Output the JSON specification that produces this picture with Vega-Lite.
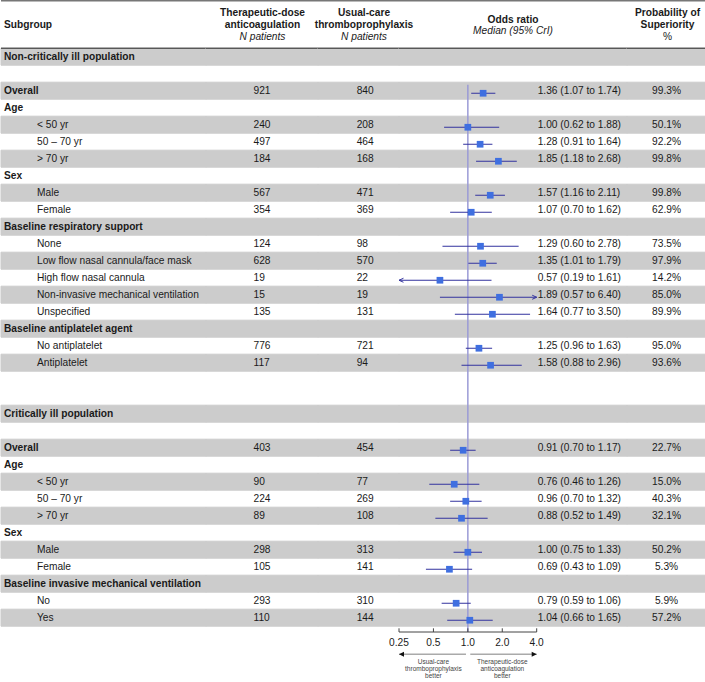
{
  "$schema": "https://vega.github.io/schema/vega-lite/v6.json",
  "padding": 0,
  "spacing": 0,
  "bounds": "flush",
  "config": {"view": {"stroke": null}, "font": "Liberation Sans"},
  "datasets": {
    "rows": [
      {"id": 1, "level": 0, "label": "Non-critically ill population"},
      {"id": 2},
      {"id": 3, "level": 0, "label": "Overall", "n1": 921, "n2": 840, "or": 1.36, "lo": 1.07, "hi": 1.74, "ci": "1.36 (1.07 to 1.74)", "prob": 0.993},
      {"id": 4, "level": 0, "label": "Age"},
      {"id": 5, "level": 1, "label": "< 50 yr", "n1": 240, "n2": 208, "or": 1.00, "lo": 0.62, "hi": 1.88, "ci": "1.00 (0.62 to 1.88)", "prob": 0.501},
      {"id": 6, "level": 1, "label": "50 – 70 yr", "n1": 497, "n2": 464, "or": 1.28, "lo": 0.91, "hi": 1.64, "ci": "1.28 (0.91 to 1.64)", "prob": 0.922},
      {"id": 7, "level": 1, "label": "> 70 yr", "n1": 184, "n2": 168, "or": 1.85, "lo": 1.18, "hi": 2.68, "ci": "1.85 (1.18 to 2.68)", "prob": 0.998},
      {"id": 8, "level": 0, "label": "Sex"},
      {"id": 9, "level": 1, "label": "Male", "n1": 567, "n2": 471, "or": 1.57, "lo": 1.16, "hi": 2.11, "ci": "1.57 (1.16 to 2.11)", "prob": 0.998},
      {"id": 10, "level": 1, "label": "Female", "n1": 354, "n2": 369, "or": 1.07, "lo": 0.70, "hi": 1.62, "ci": "1.07 (0.70 to 1.62)", "prob": 0.629},
      {"id": 11, "level": 0, "label": "Baseline respiratory support"},
      {"id": 12, "level": 1, "label": "None", "n1": 124, "n2": 98, "or": 1.29, "lo": 0.60, "hi": 2.78, "ci": "1.29 (0.60 to 2.78)", "prob": 0.735},
      {"id": 13, "level": 1, "label": "Low flow nasal cannula/face mask", "n1": 628, "n2": 570, "or": 1.35, "lo": 1.01, "hi": 1.79, "ci": "1.35 (1.01 to 1.79)", "prob": 0.979},
      {"id": 14, "level": 1, "label": "High flow nasal cannula", "n1": 19, "n2": 22, "or": 0.57, "lo": 0.19, "hi": 1.61, "ci": "0.57 (0.19 to 1.61)", "prob": 0.142},
      {"id": 15, "level": 1, "label": "Non-invasive mechanical ventilation", "n1": 15, "n2": 19, "or": 1.89, "lo": 0.57, "hi": 6.40, "ci": "1.89 (0.57 to 6.40)", "prob": 0.850},
      {"id": 16, "level": 1, "label": "Unspecified", "n1": 135, "n2": 131, "or": 1.64, "lo": 0.77, "hi": 3.50, "ci": "1.64 (0.77 to 3.50)", "prob": 0.899},
      {"id": 17, "level": 0, "label": "Baseline antiplatelet agent"},
      {"id": 18, "level": 1, "label": "No antiplatelet", "n1": 776, "n2": 721, "or": 1.25, "lo": 0.96, "hi": 1.63, "ci": "1.25 (0.96 to 1.63)", "prob": 0.950},
      {"id": 19, "level": 1, "label": "Antiplatelet", "n1": 117, "n2": 94, "or": 1.58, "lo": 0.88, "hi": 2.96, "ci": "1.58 (0.88 to 2.96)", "prob": 0.936},
      {"id": 20},
      {"id": 22, "level": 0, "label": "Critically ill population"},
      {"id": 23},
      {"id": 24, "level": 0, "label": "Overall", "n1": 403, "n2": 454, "or": 0.91, "lo": 0.70, "hi": 1.17, "ci": "0.91 (0.70 to 1.17)", "prob": 0.227},
      {"id": 25, "level": 0, "label": "Age"},
      {"id": 26, "level": 1, "label": "< 50 yr", "n1": 90, "n2": 77, "or": 0.76, "lo": 0.46, "hi": 1.26, "ci": "0.76 (0.46 to 1.26)", "prob": 0.150},
      {"id": 27, "level": 1, "label": "50 – 70 yr", "n1": 224, "n2": 269, "or": 0.96, "lo": 0.70, "hi": 1.32, "ci": "0.96 (0.70 to 1.32)", "prob": 0.403},
      {"id": 28, "level": 1, "label": "> 70 yr", "n1": 89, "n2": 108, "or": 0.88, "lo": 0.52, "hi": 1.49, "ci": "0.88 (0.52 to 1.49)", "prob": 0.321},
      {"id": 29, "level": 0, "label": "Sex"},
      {"id": 30, "level": 1, "label": "Male", "n1": 298, "n2": 313, "or": 1.00, "lo": 0.75, "hi": 1.33, "ci": "1.00 (0.75 to 1.33)", "prob": 0.502},
      {"id": 31, "level": 1, "label": "Female", "n1": 105, "n2": 141, "or": 0.69, "lo": 0.43, "hi": 1.09, "ci": "0.69 (0.43 to 1.09)", "prob": 0.053},
      {"id": 32, "level": 0, "label": "Baseline invasive mechanical ventilation"},
      {"id": 33, "level": 1, "label": "No", "n1": 293, "n2": 310, "or": 0.79, "lo": 0.59, "hi": 1.06, "ci": "0.79 (0.59 to 1.06)", "prob": 0.059},
      {"id": 34, "level": 1, "label": "Yes", "n1": 110, "n2": 144, "or": 1.04, "lo": 0.66, "hi": 1.65, "ci": "1.04 (0.66 to 1.65)", "prob": 0.572}
    ],
    "header": [
      {"col": "sub", "line": "l2", "text": "Subgroup", "role": "name"},
      {"col": "n1", "line": "l1", "text": "Therapeutic-dose", "role": "name"},
      {"col": "n1", "line": "l2", "text": "anticoagulation", "role": "name"},
      {"col": "n1", "line": "l3", "text": "N patients", "role": "unit"},
      {"col": "n2", "line": "l1", "text": "Usual-care", "role": "name"},
      {"col": "n2", "line": "l2", "text": "thromboprophylaxis", "role": "name"},
      {"col": "n2", "line": "l3", "text": "N patients", "role": "unit"},
      {"col": "or", "line": "h2", "text": "Odds ratio", "role": "name"},
      {"col": "or", "line": "h3", "text": "Median (95% CrI)", "role": "unit"},
      {"col": "prob", "line": "l1", "text": "Probability of", "role": "name"},
      {"col": "prob", "line": "l2", "text": "Superiority", "role": "name"},
      {"col": "prob", "line": "l3", "text": "%", "role": "unit"}
    ],
    "ticks": [
      {"at": 0.25, "label": "0.25"},
      {"at": 0.5, "label": "0.5"},
      {"at": 1, "label": "1.0"},
      {"at": 2, "label": "2.0"},
      {"at": 4, "label": "4.0"}
    ],
    "arrows": [
      {"from": 0.963, "to": 0.25, "tip": "left"},
      {"from": 1.05, "to": 4, "tip": "right"}
    ],
    "notes": [
      {"at": 0.5, "line": "t1", "text": "Usual-care"},
      {"at": 0.5, "line": "t2", "text": "thromboprophylaxis"},
      {"at": 0.5, "line": "t3", "text": "better"},
      {"at": 2, "line": "t1", "text": "Therapeutic-dose"},
      {"at": 2, "line": "t2", "text": "anticoagulation"},
      {"at": 2, "line": "t3", "text": "better"}
    ]
  },
  "hconcat": [
    {
      "width": 205, "height": 682,
      "resolve": {"scale": {"y": "independent"}},
      "layer": [
        {"data": {"name": "rows"}, "transform": [{"window": [{"op": "row_number", "as": "k"}], "sort": [{"field": "id"}]}, {"filter": "datum.k % 2 == 1"}],
         "mark": {"type": "rect", "color": "#cccccc", "stroke": "#cccccc", "strokeWidth": 1},
         "encoding": {"y": {"field": "id", "type": "ordinal", "axis": null, "scale": {"type": "band", "domain": [1,2,3,4,5,6,7,8,9,10,11,12,13,14,15,16,17,18,19,20,21,22,23,24,25,26,27,28,29,30,31,32,33,34], "range": [48.2, 626.2], "paddingInner": 0, "paddingOuter": 0}}}},
        {"data": {"values": [{}]}, "mark": {"type": "rule", "color": "#777777", "strokeWidth": 1.5},
         "encoding": {"y": {"datum": "top", "type": "nominal", "axis": null, "scale": {"type": "point", "domain": ["top","h1","l1","h2","l2","h3","l3"], "range": [0.75, 36.7], "padding": 0}}}},
        {"data": {"values": [{}]}, "mark": {"type": "rule", "color": "#222222", "strokeWidth": 1},
         "encoding": {"y": {"datum": 1, "type": "ordinal", "bandPosition": 0, "axis": null, "scale": {"type": "band", "domain": [1,2,3,4,5,6,7,8,9,10,11,12,13,14,15,16,17,18,19,20,21,22,23,24,25,26,27,28,29,30,31,32,33,34], "range": [48.2, 626.2], "paddingInner": 0, "paddingOuter": 0}}}},
        {"data": {"name": "header"}, "transform": [{"filter": "datum.col == 'sub'"}],
         "mark": {"type": "text", "align": "left", "baseline": "middle", "fontWeight": "bold", "fontSize": 10.2, "color": "#1a1a1a"},
         "encoding": {"x": {"datum": 0, "type": "quantitative", "axis": null, "scale": {"domain": [0, 1], "range": [3, 36], "nice": false, "zero": false}},
                      "y": {"field": "line", "type": "nominal", "axis": null, "scale": {"type": "point", "domain": ["top","h1","l1","h2","l2","h3","l3"], "range": [0.75, 36.7], "padding": 0}},
                      "text": {"field": "text"}}},
        {"data": {"name": "rows"}, "transform": [{"filter": "datum.level === 0"}],
         "mark": {"type": "text", "align": "left", "baseline": "middle", "fontWeight": "bold", "fontSize": 10.2, "color": "#1a1a1a"},
         "encoding": {"x": {"field": "level", "type": "quantitative", "axis": null, "scale": {"domain": [0, 1], "range": [3, 36], "nice": false, "zero": false}},
                      "y": {"field": "id", "type": "ordinal", "axis": null, "scale": {"type": "band", "domain": [1,2,3,4,5,6,7,8,9,10,11,12,13,14,15,16,17,18,19,20,21,22,23,24,25,26,27,28,29,30,31,32,33,34], "range": [48.2, 626.2], "paddingInner": 0, "paddingOuter": 0}},
                      "text": {"field": "label"}}},
        {"data": {"name": "rows"}, "transform": [{"filter": "datum.level === 1"}],
         "mark": {"type": "text", "align": "left", "baseline": "middle", "fontSize": 10.2, "color": "#1a1a1a"},
         "encoding": {"x": {"field": "level", "type": "quantitative", "axis": null},
                      "y": {"field": "id", "type": "ordinal", "axis": null, "scale": {"type": "band", "domain": [1,2,3,4,5,6,7,8,9,10,11,12,13,14,15,16,17,18,19,20,21,22,23,24,25,26,27,28,29,30,31,32,33,34], "range": [48.2, 626.2], "paddingInner": 0, "paddingOuter": 0}},
                      "text": {"field": "label"}}}
      ]
    },
    {
      "width": 112, "height": 682,
      "resolve": {"scale": {"y": "independent"}},
      "layer": [
        {"data": {"name": "rows"}, "transform": [{"window": [{"op": "row_number", "as": "k"}], "sort": [{"field": "id"}]}, {"filter": "datum.k % 2 == 1"}],
         "mark": {"type": "rect", "color": "#cccccc", "stroke": "#cccccc", "strokeWidth": 1},
         "encoding": {"y": {"field": "id", "type": "ordinal", "axis": null, "scale": {"type": "band", "domain": [1,2,3,4,5,6,7,8,9,10,11,12,13,14,15,16,17,18,19,20,21,22,23,24,25,26,27,28,29,30,31,32,33,34], "range": [48.2, 626.2], "paddingInner": 0, "paddingOuter": 0}}}},
        {"data": {"values": [{}]}, "mark": {"type": "rule", "color": "#777777", "strokeWidth": 1.5},
         "encoding": {"y": {"datum": "top", "type": "nominal", "axis": null, "scale": {"type": "point", "domain": ["top","h1","l1","h2","l2","h3","l3"], "range": [0.75, 36.7], "padding": 0}}}},
        {"data": {"values": [{}]}, "mark": {"type": "rule", "color": "#222222", "strokeWidth": 1},
         "encoding": {"y": {"datum": 1, "type": "ordinal", "bandPosition": 0, "axis": null, "scale": {"type": "band", "domain": [1,2,3,4,5,6,7,8,9,10,11,12,13,14,15,16,17,18,19,20,21,22,23,24,25,26,27,28,29,30,31,32,33,34], "range": [48.2, 626.2], "paddingInner": 0, "paddingOuter": 0}}}},
        {"data": {"name": "header"}, "transform": [{"filter": "datum.col == 'n1' && datum.role == 'name'"}],
         "mark": {"type": "text", "align": "center", "baseline": "middle", "fontWeight": "bold", "fontSize": 10.2, "color": "#1a1a1a", "dx": 0.5},
         "encoding": {"y": {"field": "line", "type": "nominal", "axis": null, "scale": {"type": "point", "domain": ["top","h1","l1","h2","l2","h3","l3"], "range": [0.75, 36.7], "padding": 0}},
                      "text": {"field": "text"}}},
        {"data": {"name": "header"}, "transform": [{"filter": "datum.col == 'n1' && datum.role == 'unit'"}],
         "mark": {"type": "text", "align": "center", "baseline": "middle", "fontStyle": "italic", "fontSize": 10.2, "color": "#1a1a1a", "dx": 0.5},
         "encoding": {"y": {"field": "line", "type": "nominal", "axis": null, "scale": {"type": "point", "domain": ["top","h1","l1","h2","l2","h3","l3"], "range": [0.75, 36.7], "padding": 0}},
                      "text": {"field": "text"}}},
        {"data": {"name": "rows"}, "transform": [{"filter": "isValid(datum.n1)"}],
         "mark": {"type": "text", "align": "left", "baseline": "middle", "fontSize": 10.2, "color": "#1a1a1a", "dx": -8.5},
         "encoding": {"y": {"field": "id", "type": "ordinal", "axis": null, "scale": {"type": "band", "domain": [1,2,3,4,5,6,7,8,9,10,11,12,13,14,15,16,17,18,19,20,21,22,23,24,25,26,27,28,29,30,31,32,33,34], "range": [48.2, 626.2], "paddingInner": 0, "paddingOuter": 0}},
                      "text": {"field": "n1", "type": "quantitative", "format": "d"}}}
      ]
    },
    {
      "width": 81, "height": 682,
      "resolve": {"scale": {"y": "independent"}},
      "layer": [
        {"data": {"name": "rows"}, "transform": [{"window": [{"op": "row_number", "as": "k"}], "sort": [{"field": "id"}]}, {"filter": "datum.k % 2 == 1"}],
         "mark": {"type": "rect", "color": "#cccccc", "stroke": "#cccccc", "strokeWidth": 1},
         "encoding": {"y": {"field": "id", "type": "ordinal", "axis": null, "scale": {"type": "band", "domain": [1,2,3,4,5,6,7,8,9,10,11,12,13,14,15,16,17,18,19,20,21,22,23,24,25,26,27,28,29,30,31,32,33,34], "range": [48.2, 626.2], "paddingInner": 0, "paddingOuter": 0}}}},
        {"data": {"values": [{}]}, "mark": {"type": "rule", "color": "#777777", "strokeWidth": 1.5},
         "encoding": {"y": {"datum": "top", "type": "nominal", "axis": null, "scale": {"type": "point", "domain": ["top","h1","l1","h2","l2","h3","l3"], "range": [0.75, 36.7], "padding": 0}}}},
        {"data": {"values": [{}]}, "mark": {"type": "rule", "color": "#222222", "strokeWidth": 1},
         "encoding": {"y": {"datum": 1, "type": "ordinal", "bandPosition": 0, "axis": null, "scale": {"type": "band", "domain": [1,2,3,4,5,6,7,8,9,10,11,12,13,14,15,16,17,18,19,20,21,22,23,24,25,26,27,28,29,30,31,32,33,34], "range": [48.2, 626.2], "paddingInner": 0, "paddingOuter": 0}}}},
        {"data": {"name": "header"}, "transform": [{"filter": "datum.col == 'n2' && datum.role == 'name'"}],
         "mark": {"type": "text", "align": "center", "baseline": "middle", "fontWeight": "bold", "fontSize": 10.2, "color": "#1a1a1a", "dx": 5.5},
         "encoding": {"y": {"field": "line", "type": "nominal", "axis": null, "scale": {"type": "point", "domain": ["top","h1","l1","h2","l2","h3","l3"], "range": [0.75, 36.7], "padding": 0}},
                      "text": {"field": "text"}}},
        {"data": {"name": "header"}, "transform": [{"filter": "datum.col == 'n2' && datum.role == 'unit'"}],
         "mark": {"type": "text", "align": "center", "baseline": "middle", "fontStyle": "italic", "fontSize": 10.2, "color": "#1a1a1a", "dx": 5.5},
         "encoding": {"y": {"field": "line", "type": "nominal", "axis": null, "scale": {"type": "point", "domain": ["top","h1","l1","h2","l2","h3","l3"], "range": [0.75, 36.7], "padding": 0}},
                      "text": {"field": "text"}}},
        {"data": {"name": "rows"}, "transform": [{"filter": "isValid(datum.n2)"}],
         "mark": {"type": "text", "align": "left", "baseline": "middle", "fontSize": 10.2, "color": "#1a1a1a", "dx": -1.8},
         "encoding": {"y": {"field": "id", "type": "ordinal", "axis": null, "scale": {"type": "band", "domain": [1,2,3,4,5,6,7,8,9,10,11,12,13,14,15,16,17,18,19,20,21,22,23,24,25,26,27,28,29,30,31,32,33,34], "range": [48.2, 626.2], "paddingInner": 0, "paddingOuter": 0}},
                      "text": {"field": "n2", "type": "quantitative", "format": "d"}}}
      ]
    },
    {
      "width": 228, "height": 682,
      "resolve": {"scale": {"y": "independent"}},
      "layer": [
        {"data": {"name": "rows"}, "transform": [{"window": [{"op": "row_number", "as": "k"}], "sort": [{"field": "id"}]}, {"filter": "datum.k % 2 == 1"}],
         "mark": {"type": "rect", "color": "#cccccc", "stroke": "#cccccc", "strokeWidth": 1},
         "encoding": {"y": {"field": "id", "type": "ordinal", "axis": null, "scale": {"type": "band", "domain": [1,2,3,4,5,6,7,8,9,10,11,12,13,14,15,16,17,18,19,20,21,22,23,24,25,26,27,28,29,30,31,32,33,34], "range": [48.2, 626.2], "paddingInner": 0, "paddingOuter": 0}}}},
        {"data": {"values": [{}]}, "mark": {"type": "rule", "color": "#777777", "strokeWidth": 1.5},
         "encoding": {"y": {"datum": "top", "type": "nominal", "axis": null, "scale": {"type": "point", "domain": ["top","h1","l1","h2","l2","h3","l3"], "range": [0.75, 36.7], "padding": 0}}}},
        {"data": {"values": [{}]}, "mark": {"type": "rule", "color": "#222222", "strokeWidth": 1},
         "encoding": {"y": {"datum": 1, "type": "ordinal", "bandPosition": 0, "axis": null, "scale": {"type": "band", "domain": [1,2,3,4,5,6,7,8,9,10,11,12,13,14,15,16,17,18,19,20,21,22,23,24,25,26,27,28,29,30,31,32,33,34], "range": [48.2, 626.2], "paddingInner": 0, "paddingOuter": 0}}}},
        {"data": {"name": "header"}, "transform": [{"filter": "datum.col == 'or' && datum.role == 'name'"}],
         "mark": {"type": "text", "align": "center", "baseline": "middle", "fontWeight": "bold", "fontSize": 10.2, "color": "#1a1a1a", "dy": 1.5},
         "encoding": {"y": {"field": "line", "type": "nominal", "axis": null, "scale": {"type": "point", "domain": ["top","h1","l1","h2","l2","h3","l3"], "range": [0.75, 36.7], "padding": 0}},
                      "text": {"field": "text"}}},
        {"data": {"name": "header"}, "transform": [{"filter": "datum.col == 'or' && datum.role == 'unit'"}],
         "mark": {"type": "text", "align": "center", "baseline": "middle", "fontStyle": "italic", "fontSize": 10.2, "color": "#1a1a1a"},
         "encoding": {"y": {"field": "line", "type": "nominal", "axis": null, "scale": {"type": "point", "domain": ["top","h1","l1","h2","l2","h3","l3"], "range": [0.75, 36.7], "padding": 0}},
                      "text": {"field": "text"}}},
        {"data": {"values": [{}]}, "mark": {"type": "rule", "color": "#9b9bd6", "strokeWidth": 1.5},
         "encoding": {"x": {"datum": 1, "type": "quantitative", "axis": null},
                      "y": {"datum": "start", "type": "nominal", "axis": null, "scale": {"type": "point", "domain": ["start", "end"], "range": [84.7, 632], "padding": 0}},
                      "y2": {"datum": "end"}}},
        {"data": {"name": "rows"}, "transform": [{"filter": "isValid(datum.or)"}],
         "mark": {"type": "rule", "color": "#33339e", "strokeWidth": 1},
         "encoding": {"x": {"field": "lo", "type": "quantitative", "axis": null,
                            "scale": {"type": "log", "domain": [0.25, 4], "range": [0, 137.7], "clamp": true, "nice": false}},
                      "x2": {"field": "hi"},
                      "y": {"field": "id", "type": "ordinal", "bandPosition": 0.65, "axis": null, "scale": {"type": "band", "domain": [1,2,3,4,5,6,7,8,9,10,11,12,13,14,15,16,17,18,19,20,21,22,23,24,25,26,27,28,29,30,31,32,33,34], "range": [48.2, 626.2], "paddingInner": 0, "paddingOuter": 0}}}},
        {"data": {"name": "rows"}, "transform": [{"filter": "datum.lo < 0.25"}],
         "mark": {"type": "point", "shape": "M0,0L1,-0.45M0,0L1,0.45", "filled": false, "color": "#33339e", "strokeWidth": 1, "size": 80, "opacity": 1},
         "encoding": {"x": {"field": "lo", "type": "quantitative", "axis": null},
                      "y": {"field": "id", "type": "ordinal", "bandPosition": 0.65, "axis": null, "scale": {"type": "band", "domain": [1,2,3,4,5,6,7,8,9,10,11,12,13,14,15,16,17,18,19,20,21,22,23,24,25,26,27,28,29,30,31,32,33,34], "range": [48.2, 626.2], "paddingInner": 0, "paddingOuter": 0}}}},
        {"data": {"name": "rows"}, "transform": [{"filter": "datum.hi > 4"}],
         "mark": {"type": "point", "shape": "M0,0L-1,-0.45M0,0L-1,0.45", "filled": false, "color": "#33339e", "strokeWidth": 1, "size": 80, "opacity": 1},
         "encoding": {"x": {"field": "hi", "type": "quantitative", "axis": null},
                      "y": {"field": "id", "type": "ordinal", "bandPosition": 0.65, "axis": null, "scale": {"type": "band", "domain": [1,2,3,4,5,6,7,8,9,10,11,12,13,14,15,16,17,18,19,20,21,22,23,24,25,26,27,28,29,30,31,32,33,34], "range": [48.2, 626.2], "paddingInner": 0, "paddingOuter": 0}}}},
        {"data": {"name": "rows"}, "transform": [{"filter": "isValid(datum.or)"}],
         "mark": {"type": "point", "shape": "square", "filled": true, "color": "#3f6fe0", "size": 45, "opacity": 1},
         "encoding": {"x": {"field": "or", "type": "quantitative", "axis": null},
                      "y": {"field": "id", "type": "ordinal", "bandPosition": 0.65, "axis": null, "scale": {"type": "band", "domain": [1,2,3,4,5,6,7,8,9,10,11,12,13,14,15,16,17,18,19,20,21,22,23,24,25,26,27,28,29,30,31,32,33,34], "range": [48.2, 626.2], "paddingInner": 0, "paddingOuter": 0}}}},
        {"data": {"name": "rows"}, "transform": [{"filter": "isValid(datum.ci)"}],
         "mark": {"type": "text", "align": "left", "baseline": "middle", "fontSize": 10.2, "color": "#1a1a1a", "dx": 1},
         "encoding": {"x": {"datum": 4, "type": "quantitative", "axis": null},
                      "y": {"field": "id", "type": "ordinal", "axis": null, "scale": {"type": "band", "domain": [1,2,3,4,5,6,7,8,9,10,11,12,13,14,15,16,17,18,19,20,21,22,23,24,25,26,27,28,29,30,31,32,33,34], "range": [48.2, 626.2], "paddingInner": 0, "paddingOuter": 0}},
                      "text": {"field": "ci"}}},
        {"data": {"values": [{}]},
         "mark": {"type": "rule", "color": "#444444", "strokeWidth": 1},
         "encoding": {"x": {"datum": 0.25, "type": "quantitative", "axis": null}, "x2": {"datum": 4},
                      "y": {"datum": "axis", "type": "nominal", "axis": null, "scale": {"type": "point", "domain": ["tick","axis","s2","s3","label","s5","s6","arrow","s8","t1","s10","t2","s12","t3"], "range": [628.3, 676.4], "padding": 0}}}},
        {"data": {"name": "ticks"},
         "mark": {"type": "rule", "color": "#444444", "strokeWidth": 1},
         "encoding": {"x": {"field": "at", "type": "quantitative", "axis": null},
                      "y": {"datum": "tick", "type": "nominal", "axis": null, "scale": {"type": "point", "domain": ["tick","axis","s2","s3","label","s5","s6","arrow","s8","t1","s10","t2","s12","t3"], "range": [628.3, 676.4], "padding": 0}},
                      "y2": {"datum": "axis"}}},
        {"data": {"name": "ticks"},
         "mark": {"type": "text", "align": "center", "baseline": "middle", "fontSize": 10.2, "color": "#1a1a1a"},
         "encoding": {"x": {"field": "at", "type": "quantitative", "axis": null},
                      "y": {"datum": "label", "type": "nominal", "axis": null, "scale": {"type": "point", "domain": ["tick","axis","s2","s3","label","s5","s6","arrow","s8","t1","s10","t2","s12","t3"], "range": [628.3, 676.4], "padding": 0}},
                      "text": {"field": "label"}}},
        {"data": {"name": "arrows"},
         "mark": {"type": "rule", "color": "#aaaaaa", "strokeWidth": 1.5},
         "encoding": {"x": {"field": "from", "type": "quantitative", "axis": null}, "x2": {"field": "to"},
                      "y": {"datum": "arrow", "type": "nominal", "axis": null, "scale": {"type": "point", "domain": ["tick","axis","s2","s3","label","s5","s6","arrow","s8","t1","s10","t2","s12","t3"], "range": [628.3, 676.4], "padding": 0}}}},
        {"data": {"name": "arrows"},
         "mark": {"type": "point", "filled": true, "color": "#111111", "size": 100, "opacity": 1},
         "encoding": {"x": {"field": "to", "type": "quantitative", "axis": null},
                      "y": {"datum": "arrow", "type": "nominal", "axis": null, "scale": {"type": "point", "domain": ["tick","axis","s2","s3","label","s5","s6","arrow","s8","t1","s10","t2","s12","t3"], "range": [628.3, 676.4], "padding": 0}},
                      "shape": {"field": "tip", "type": "nominal", "legend": null, "scale": {"domain": ["left", "right"], "range": ["M0,0L1,-0.5L1,0.5Z", "M0,0L-1,-0.5L-1,0.5Z"]}}}},
        {"data": {"name": "notes"},
         "mark": {"type": "text", "align": "center", "baseline": "middle", "fontSize": 6.5, "color": "#444444"},
         "encoding": {"x": {"field": "at", "type": "quantitative", "axis": null},
                      "y": {"field": "line", "type": "nominal", "axis": null, "scale": {"type": "point", "domain": ["tick","axis","s2","s3","label","s5","s6","arrow","s8","t1","s10","t2","s12","t3"], "range": [628.3, 676.4], "padding": 0}},
                      "text": {"field": "text"}}}
      ]
    },
    {
      "width": 79, "height": 682,
      "resolve": {"scale": {"y": "independent"}},
      "layer": [
        {"data": {"name": "rows"}, "transform": [{"window": [{"op": "row_number", "as": "k"}], "sort": [{"field": "id"}]}, {"filter": "datum.k % 2 == 1"}],
         "mark": {"type": "rect", "color": "#cccccc", "stroke": "#cccccc", "strokeWidth": 1},
         "encoding": {"y": {"field": "id", "type": "ordinal", "axis": null, "scale": {"type": "band", "domain": [1,2,3,4,5,6,7,8,9,10,11,12,13,14,15,16,17,18,19,20,21,22,23,24,25,26,27,28,29,30,31,32,33,34], "range": [48.2, 626.2], "paddingInner": 0, "paddingOuter": 0}}}},
        {"data": {"values": [{}]}, "mark": {"type": "rule", "color": "#777777", "strokeWidth": 1.5},
         "encoding": {"y": {"datum": "top", "type": "nominal", "axis": null, "scale": {"type": "point", "domain": ["top","h1","l1","h2","l2","h3","l3"], "range": [0.75, 36.7], "padding": 0}}}},
        {"data": {"values": [{}]}, "mark": {"type": "rule", "color": "#222222", "strokeWidth": 1},
         "encoding": {"y": {"datum": 1, "type": "ordinal", "bandPosition": 0, "axis": null, "scale": {"type": "band", "domain": [1,2,3,4,5,6,7,8,9,10,11,12,13,14,15,16,17,18,19,20,21,22,23,24,25,26,27,28,29,30,31,32,33,34], "range": [48.2, 626.2], "paddingInner": 0, "paddingOuter": 0}}}},
        {"data": {"name": "header"}, "transform": [{"filter": "datum.col == 'prob' && datum.role == 'name'"}],
         "mark": {"type": "text", "align": "center", "baseline": "middle", "fontWeight": "bold", "fontSize": 10.2, "color": "#1a1a1a", "dx": 1},
         "encoding": {"y": {"field": "line", "type": "nominal", "axis": null, "scale": {"type": "point", "domain": ["top","h1","l1","h2","l2","h3","l3"], "range": [0.75, 36.7], "padding": 0}},
                      "text": {"field": "text"}}},
        {"data": {"name": "header"}, "transform": [{"filter": "datum.col == 'prob' && datum.role == 'unit'"}],
         "mark": {"type": "text", "align": "center", "baseline": "middle", "fontSize": 10.2, "color": "#1a1a1a", "dx": 1},
         "encoding": {"y": {"field": "line", "type": "nominal", "axis": null, "scale": {"type": "point", "domain": ["top","h1","l1","h2","l2","h3","l3"], "range": [0.75, 36.7], "padding": 0}},
                      "text": {"field": "text"}}},
        {"data": {"name": "rows"}, "transform": [{"filter": "isValid(datum.prob)"}],
         "mark": {"type": "text", "align": "center", "baseline": "middle", "fontSize": 10.2, "color": "#1a1a1a"},
         "encoding": {"y": {"field": "id", "type": "ordinal", "axis": null, "scale": {"type": "band", "domain": [1,2,3,4,5,6,7,8,9,10,11,12,13,14,15,16,17,18,19,20,21,22,23,24,25,26,27,28,29,30,31,32,33,34], "range": [48.2, 626.2], "paddingInner": 0, "paddingOuter": 0}},
                      "text": {"field": "prob", "type": "quantitative", "format": ".1%"}}}
      ]
    }
  ]
}
